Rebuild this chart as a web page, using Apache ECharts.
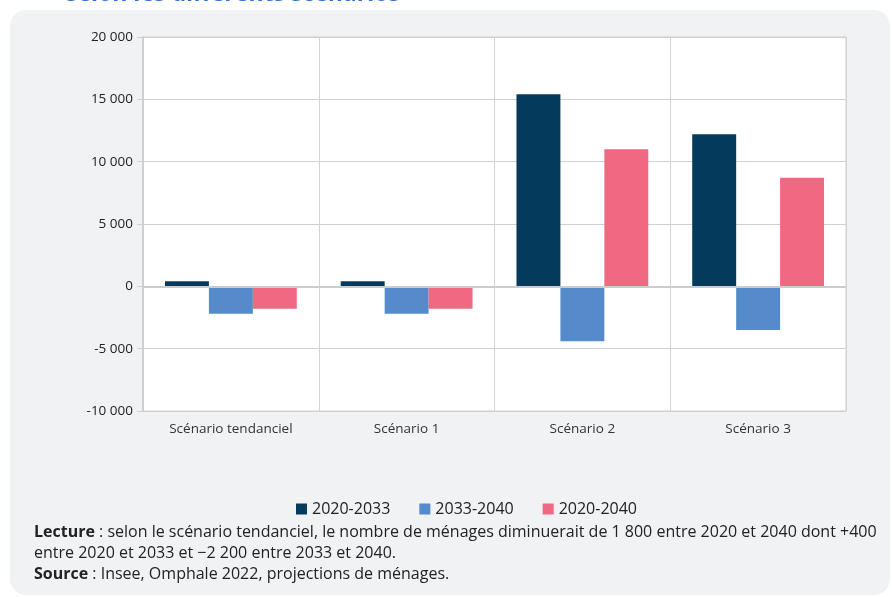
<!DOCTYPE html>
<html>
<head>
<meta charset="utf-8">
<script src="https://cdn.jsdelivr.net/npm/echarts@6/dist/echarts.min.js"></script>
<style>
  html, body { margin: 0; padding: 0; background: #fff; }
  #chart { width: 892px; height: 597px; }
</style>
</head>
<body>
<div id="chart"></div>
<script>
// données
var categories = ["Scénario tendanciel", "Scénario 1", "Scénario 2", "Scénario 3"];
var seriesNames = ["2020-2033", "2033-2040", "2020-2040"];
var v2020_2033 = [400, 400, 15400, 12200];
var v2033_2040 = [-2200, -2200, -4400, -3500];
var v2020_2040 = [-1800, -1800, 11000, 8700];
var colors = ["#043b5c", "#558acb", "#f06882"];

var font = '"Open Sans", "Noto Sans", sans-serif';

function fmt(v) {
  var s = String(Math.abs(v)).replace(/\B(?=(\d{3})+(?!\d))/g, " ");
  return (v < 0 ? "-" : "") + s;
}

var chart = echarts.init(document.getElementById("chart"));
chart.setOption({
  animation: false,
  backgroundColor: "#fff",
  textStyle: { fontFamily: font },
  color: colors,
  graphic: [
    {
      type: "rect",
      z: -100,
      shape: { x: 10, y: 10, width: 880, height: 585, r: 16 },
      style: { fill: "#f1f2f4" }
    },
    {
      type: "text",
      z: 10,
      style: {
        text: "selon les différents scénarios",
        x: 66, y: 6,
        verticalAlign: "bottom",
        font: "bold 23px " + font,
        fill: "#2f6fcf"
      }
    },
    {
      type: "text",
      z: 10,
      style: {
        x: 34, y: 522,
        text: "{b|Lecture} : selon le scénario tendanciel, le nombre de ménages diminuerait de 1 800 entre 2020 et 2040 dont +400\nentre 2020 et 2033 et −2 200 entre 2033 et 2040.\n{b|Source} : Insee, Omphale 2022, projections de ménages.",
        font: "16px " + font,
        fill: "#222",
        lineHeight: 21,
        rich: {
          b: { fontWeight: "bold", fontSize: 16, fontFamily: font, fill: "#222", lineHeight: 21 }
        }
      }
    }
  ],
  legend: {
    data: seriesNames,
    top: 496,
    left: 291,
    itemWidth: 11,
    itemHeight: 11,
    itemGap: 29,
    icon: "rect",
    textStyle: { fontSize: 16, color: "#222", fontFamily: font }
  },
  grid: {
    left: 143,
    right: 46,
    top: 37,
    bottom: 186,
    show: true,
    backgroundColor: "#fff",
    borderColor: "#cfcfcf",
    borderWidth: 1
  },
  xAxis: {
    type: "category",
    data: categories,
    axisLine: { show: false },
    axisTick: { show: false },
    axisLabel: { color: "#333", fontSize: 13.5, margin: 11, fontFamily: font },
    splitLine: { show: true, interval: 0, lineStyle: { color: "#d4d4d4", width: 1 } }
  },
  yAxis: {
    type: "value",
    min: -10000,
    max: 20000,
    interval: 5000,
    axisLine: { show: true, lineStyle: { color: "#cfcfcf", width: 2 } },
    axisTick: { show: true, length: 6, lineStyle: { color: "#cfcfcf" } },
    axisLabel: { color: "#222", fontSize: 13.5, margin: 10, fontFamily: font, formatter: fmt },
    splitLine: { lineStyle: { color: "#d0d0d0", width: 1 } }
  },
  series: [
    {
      name: seriesNames[0],
      type: "bar",
      data: v2020_2033,
      barGap: "0%",
      barCategoryGap: "25%",
      markLine: {
        silent: true,
        symbol: "none",
        label: { show: false },
        lineStyle: { color: "#cccccc", width: 2, type: "solid" },
        data: [{ yAxis: 0 }]
      }
    },
    {
      name: seriesNames[1],
      type: "bar",
      data: v2033_2040,
      barGap: "0%",
      barCategoryGap: "25%"
    },
    {
      name: seriesNames[2],
      type: "bar",
      data: v2020_2040,
      barGap: "0%",
      barCategoryGap: "25%"
    }
  ]
});
</script>
</body>
</html>
